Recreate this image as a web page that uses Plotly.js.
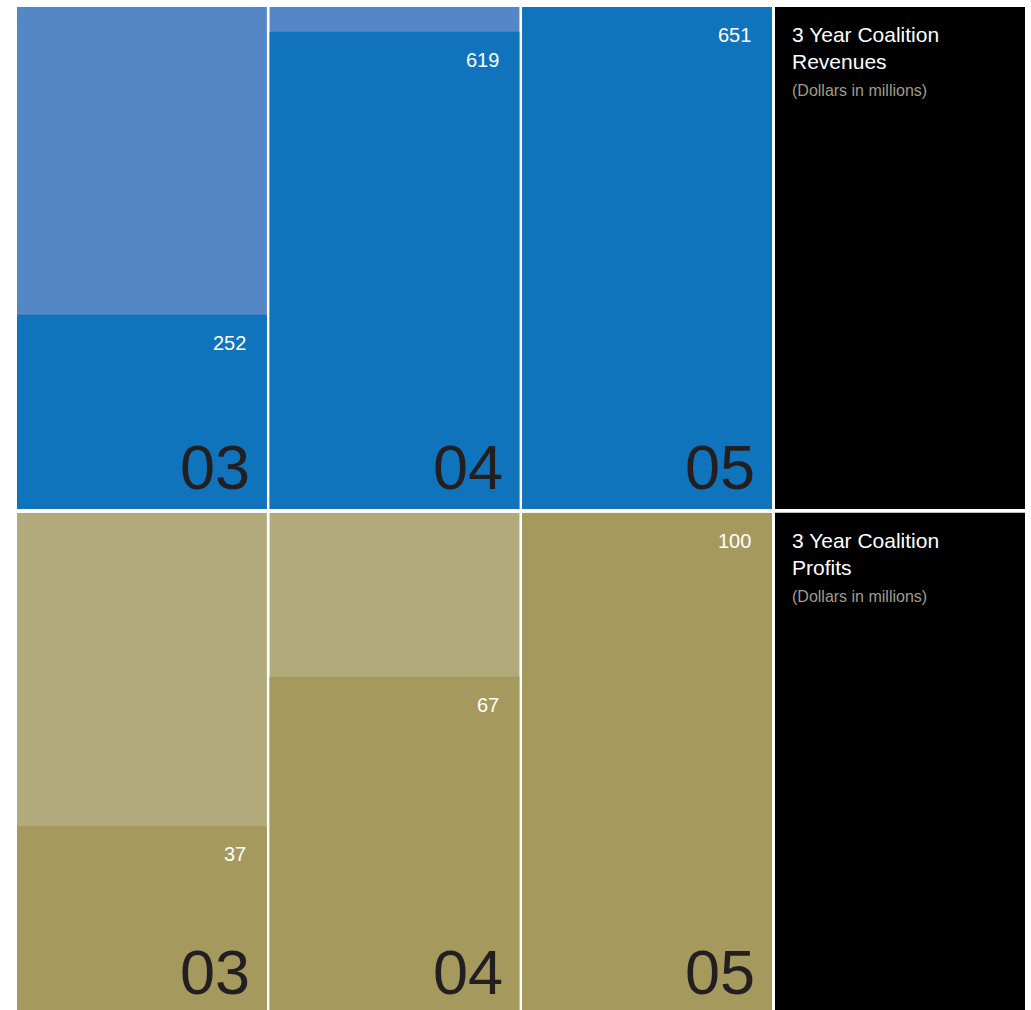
<!DOCTYPE html>
<html>
<head>
<meta charset="utf-8">
<script src="https://cdn.plot.ly/plotly-3.0.1.min.js"></script>
<style>
html,body{margin:0;padding:0;background:#ffffff;}
#chart{width:1031px;height:1010px;}
</style>
</head>
<body>
<div id="chart"></div>
<script>
// ---- data ----
const years = ['03', '04', '05'];
const revenues = [252, 619, 651];
const profits = [37, 67, 100];
const revenueTitle = '3 Year Coalition<br>Revenues';
const profitTitle = '3 Year Coalition<br>Profits';
const unitNote = '(Dollars in millions)';

// ---- styling ----
const W = 1031, H = 1010;
const FONT = 'Liberation Sans, Arial, Helvetica, sans-serif';
const colors = {
  revLight: '#5586c6', revDark: '#1074bc',
  proLight: '#b2aa7a', proDark: '#a5995e',
  digit: '#231f20', note: '#a29b8c'
};
const revMax = Math.max.apply(null, revenues);
const proMax = Math.max.apply(null, profits);

function px2x(p){ return p / W; }
function px2y(p){ return 1 - p / H; }

const traces = [
  {type:'bar', x: years, y: years.map(() => revMax), xaxis:'x', yaxis:'y',
   marker:{color: colors.revLight}, hoverinfo:'skip', showlegend:false},
  {type:'bar', x: years, y: revenues, xaxis:'x', yaxis:'y',
   marker:{color: colors.revDark}, hoverinfo:'x+y', showlegend:false},
  {type:'bar', x: years, y: years.map(() => proMax), xaxis:'x2', yaxis:'y2',
   marker:{color: colors.proLight}, hoverinfo:'skip', showlegend:false},
  {type:'bar', x: years, y: profits, xaxis:'x2', yaxis:'y2',
   marker:{color: colors.proDark}, hoverinfo:'x+y', showlegend:false}
];

const hidden = {showgrid:false, zeroline:false, showticklabels:false, showline:false, ticks:'', fixedrange:true};
const xDom = [px2x(15.65), px2x(773.35)];

const annotations = [];
function addRow(xref, yref, values, digitShiftY){
  years.forEach((yr, i) => {
    // category axes: annotation x is the category's serial index
    annotations.push({
      x: i, y: values[i], xref: xref, yref: yref,
      text: String(values[i]), showarrow:false,
      xanchor:'right', yanchor:'middle', xshift: 106, yshift: -28,
      font:{family: FONT, size: 20, color:'#ffffff'}
    });
    annotations.push({
      x: i, y: 0, xref: xref, yref: yref,
      text: yr, showarrow:false,
      xanchor:'right', yanchor:'bottom', xshift: 110, yshift: digitShiftY,
      font:{family: FONT, size: 63, color: colors.digit}
    });
  });
}
addRow('x', 'y', revenues, 5);
addRow('x2', 'y2', profits, 1);

function addTitle(topPx, title){
  annotations.push({
    x: px2x(790), y: px2y(topPx), xref:'paper', yref:'paper',
    text: title, showarrow:false, xanchor:'left', yanchor:'top', align:'left',
    font:{family: FONT, size: 21, color:'#ffffff'}
  });
  annotations.push({
    x: px2x(790), y: px2y(topPx + 59), xref:'paper', yref:'paper',
    text: unitNote, showarrow:false, xanchor:'left', yanchor:'top', align:'left',
    font:{family: FONT, size: 16, color: colors.note}
  });
}
addTitle(21, revenueTitle);
addTitle(527, profitTitle);

const layout = {
  width: W, height: H,
  margin:{l:0, r:0, t:0, b:0, pad:0},
  paper_bgcolor:'#ffffff', plot_bgcolor:'#ffffff',
  barmode:'overlay', bargap: 0.0107,
  showlegend:false,
  xaxis: Object.assign({domain: xDom, anchor:'y', type:'category', range:[-0.5, 2.5]}, hidden),
  yaxis: Object.assign({domain:[px2y(509), px2y(7)], anchor:'x', range:[0, revMax]}, hidden),
  xaxis2: Object.assign({domain: xDom, anchor:'y2', type:'category', range:[-0.5, 2.5]}, hidden),
  yaxis2: Object.assign({domain:[0, px2y(512.7)], anchor:'x2', range:[0, proMax]}, hidden),
  shapes: [
    {type:'rect', xref:'paper', yref:'paper', x0:px2x(775), x1:px2x(1025), y0:px2y(509), y1:px2y(7),
     fillcolor:'#000000', line:{width:0}, layer:'below'},
    {type:'rect', xref:'paper', yref:'paper', x0:px2x(775), x1:px2x(1025), y0:0, y1:px2y(512.7),
     fillcolor:'#000000', line:{width:0}, layer:'below'}
  ],
  annotations: annotations
};

Plotly.newPlot('chart', traces, layout, {displayModeBar:false, staticPlot:true});
</script>
</body>
</html>
